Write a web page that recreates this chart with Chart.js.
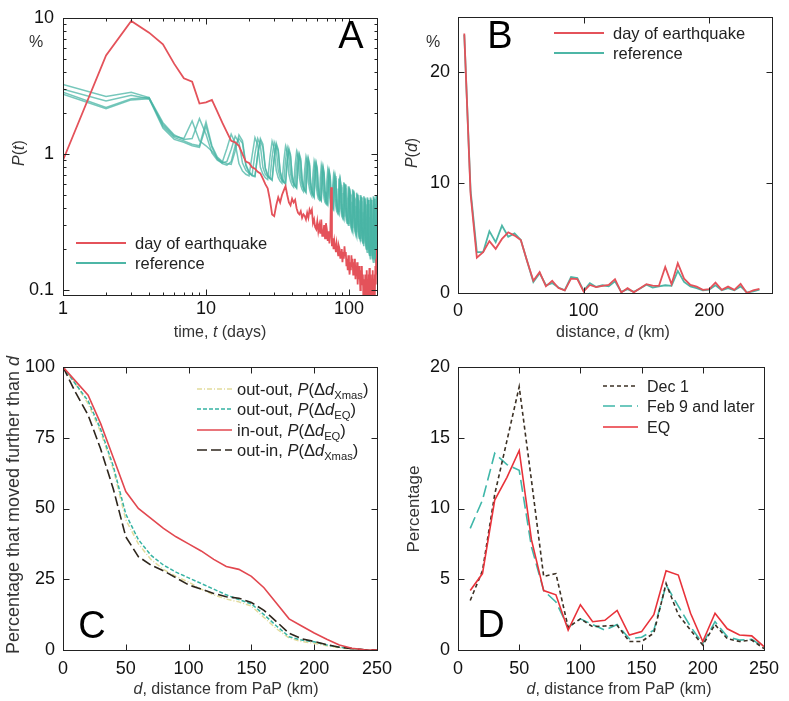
<!DOCTYPE html>
<html>
<head>
<meta charset="utf-8">
<script src="https://cdn.jsdelivr.net/npm/chart.js@4.4.1/dist/chart.umd.min.js"></script>
<style>
  html, body { margin: 0; padding: 0; background: #fff; }
  #wrap { position: relative; width: 789px; height: 701px; overflow: hidden; }
  canvas { position: absolute; left: 0; top: 0; }
</style>
</head>
<body>
<div id="wrap">
  <canvas id="chart-a" width="789" height="701"></canvas>
  <canvas id="chart-b" width="789" height="701"></canvas>
  <canvas id="chart-c" width="789" height="701"></canvas>
  <canvas id="chart-d" width="789" height="701"></canvas>
</div>
<script>
// ---- panel A: P(t), daily, log-log ----
var days = [];
for (var i = 1; i <= 157; i++) days.push(i);

var quakeT = [0.9, 5.3, 9.5, 7.8, 6.4, 4.6, 3.6, 3.4, 2.35, 2.4, 2.5, 2.05, 1.7, 1.45, 1.25, 1.22,
  1.15, 1.0, 0.88, 0.86, 0.8, 0.78, 0.74, 0.72, 0.66, 0.6, 0.56, 0.46, 0.36, 0.35,
  0.42, 0.48, 0.44, 0.5, 0.54, 0.58, 0.5, 0.44, 0.42, 0.47,
  0.44, 0.46, 0.4, 0.37, 0.36, 0.38, 0.34, 0.36, 0.35, 0.33,
  0.37, 0.34, 0.39, 0.37, 0.39, 0.31, 0.33, 0.29, 0.28, 0.32,
  0.27, 0.3, 0.26, 0.33, 0.25, 0.25, 0.3, 0.24, 0.31, 0.28,
  0.23, 0.27, 0.22, 0.26, 0.57, 0.21, 0.24, 0.2, 0.23, 0.21,
  0.19, 0.22, 0.2, 0.18, 0.21, 0.2, 0.17, 0.19, 0.2, 0.16,
  0.19, 0.17, 0.21, 0.18, 0.19, 0.15, 0.17, 0.14, 0.18, 0.15,
  0.13, 0.16, 0.14, 0.18, 0.15, 0.17, 0.13, 0.16, 0.14, 0.17,
  0.12, 0.15, 0.13, 0.16, 0.11, 0.14, 0.12, 0.15, 0.13, 0.1,
  0.14, 0.12, 0.15, 0.11, 0.13, 0.09, 0.12, 0.1, 0.085, 0.13,
  0.11, 0.09, 0.14, 0.1, 0.12, 0.085, 0.13, 0.1, 0.145, 0.11,
  0.09, 0.13, 0.1, 0.12, 0.085, 0.11, 0.14, 0.09, 0.12, 0.1,
  0.13, 0.09, 0.15, 0.11, 0.17, 0.13, 0.2];

var refT1 = [3.25, 2.65, 2.85, 2.6, 1.7, 1.38, 1.28, 1.3, 1.82, 1.4, 1.02, 0.9, 0.86, 0.88, 1.08,
  1.35, 1.22, 0.86, 0.76, 0.72, 0.7, 1.0,
  1.3, 1.15, 0.8, 0.71, 0.68, 0.66, 0.95,
  1.22, 1.1, 0.76, 0.67, 0.64, 0.62, 0.9,
  1.12, 1.0, 0.72, 0.63, 0.6, 0.58, 0.84,
  1.02, 0.93, 0.67, 0.59, 0.56, 0.54, 0.78,
  0.94, 0.86, 0.62, 0.55, 0.52, 0.5, 0.73,
  0.87, 0.8, 0.58, 0.5, 0.48, 0.47, 0.67,
  0.81, 0.74, 0.54, 0.47, 0.45, 0.44, 0.63,
  0.75, 0.69, 0.5, 0.44, 0.42, 0.41, 0.59,
  0.69, 0.64, 0.47, 0.41, 0.39, 0.38, 0.55,
  0.65, 0.6, 0.43, 0.38, 0.36, 0.35, 0.51,
  0.61, 0.56, 0.4, 0.35, 0.33, 0.32, 0.47,
  0.57, 0.52, 0.36, 0.32, 0.3, 0.29, 0.44,
  0.54, 0.49, 0.34, 0.29, 0.28, 0.27, 0.41,
  0.51, 0.47, 0.31, 0.27, 0.26, 0.25, 0.39,
  0.49, 0.45, 0.29, 0.25, 0.24, 0.23, 0.37,
  0.48, 0.44, 0.27, 0.23, 0.22, 0.21, 0.35,
  0.47, 0.43, 0.25, 0.21, 0.2, 0.19, 0.34,
  0.47, 0.42, 0.24, 0.2, 0.19, 0.18, 0.33,
  0.48, 0.43, 0.23, 0.19, 0.18, 0.17, 0.33,
  0.49, 0.44];

var refT2 = [2.85, 2.2, 2.55, 2.6, 1.6, 1.32, 1.25, 1.18, 1.15, 1.72, 1.15, 0.95, 0.88, 0.85, 0.84, 1.05,
  1.38, 1.25, 0.84, 0.74, 0.7, 0.69, 0.98,
  1.3, 1.18, 0.79, 0.7, 0.67, 0.65, 0.93,
  1.2, 1.08, 0.75, 0.66, 0.63, 0.61, 0.88,
  1.1, 0.99, 0.7, 0.62, 0.59, 0.57, 0.82,
  1.0, 0.92, 0.66, 0.58, 0.55, 0.53, 0.77,
  0.93, 0.85, 0.61, 0.54, 0.51, 0.49, 0.71,
  0.86, 0.79, 0.57, 0.5, 0.47, 0.46, 0.66,
  0.8, 0.73, 0.53, 0.46, 0.44, 0.43, 0.62,
  0.74, 0.68, 0.49, 0.43, 0.41, 0.4, 0.58,
  0.69, 0.63, 0.46, 0.4, 0.38, 0.37, 0.54,
  0.64, 0.59, 0.42, 0.37, 0.35, 0.34, 0.5,
  0.6, 0.55, 0.39, 0.34, 0.32, 0.31, 0.46,
  0.56, 0.51, 0.35, 0.31, 0.29, 0.28, 0.43,
  0.53, 0.48, 0.33, 0.28, 0.27, 0.26, 0.4,
  0.5, 0.46, 0.3, 0.26, 0.25, 0.24, 0.38,
  0.48, 0.44, 0.28, 0.24, 0.23, 0.22, 0.36,
  0.47, 0.43, 0.26, 0.22, 0.21, 0.2, 0.34,
  0.46, 0.42, 0.24, 0.2, 0.19, 0.18, 0.33,
  0.46, 0.41, 0.23, 0.19, 0.18, 0.17, 0.32,
  0.47, 0.42, 0.22, 0.18, 0.17, 0.16, 0.32,
  0.48];

var refT3 = [2.75, 2.15, 2.5, 2.55, 1.55, 1.28, 1.22, 1.15, 1.12, 1.6, 1.12, 0.92, 0.85, 0.83, 0.88, 1.15,
  1.3, 1.2, 0.82, 0.73, 0.69, 0.68, 1.0,
  1.25, 1.12, 0.78, 0.69, 0.66, 0.64, 0.95,
  1.16, 1.05, 0.74, 0.65, 0.62, 0.6, 0.9,
  1.06, 0.96, 0.69, 0.61, 0.58, 0.56, 0.84,
  0.97, 0.88, 0.64, 0.57, 0.54, 0.52, 0.78,
  0.9, 0.82, 0.6, 0.53, 0.5, 0.48, 0.72,
  0.84, 0.76, 0.56, 0.49, 0.46, 0.45, 0.67,
  0.78, 0.71, 0.52, 0.45, 0.43, 0.42, 0.63,
  0.72, 0.66, 0.48, 0.42, 0.4, 0.39, 0.59,
  0.67, 0.61, 0.45, 0.39, 0.37, 0.36, 0.55,
  0.63, 0.57, 0.41, 0.36, 0.34, 0.33, 0.51,
  0.59, 0.53, 0.38, 0.33, 0.31, 0.3, 0.47,
  0.55, 0.5, 0.34, 0.3, 0.28, 0.27, 0.44,
  0.52, 0.47, 0.32, 0.27, 0.26, 0.25, 0.41,
  0.5, 0.45, 0.29, 0.25, 0.24, 0.23, 0.39,
  0.48, 0.43, 0.27, 0.23, 0.22, 0.21, 0.37,
  0.47, 0.42, 0.25, 0.21, 0.2, 0.19, 0.35,
  0.46, 0.41, 0.23, 0.19, 0.18, 0.17, 0.34,
  0.46, 0.4, 0.22, 0.18, 0.17, 0.16, 0.33,
  0.47, 0.41, 0.21, 0.17, 0.16, 0.15, 0.33,
  0.49];

var refT4 = [3.0, 2.45, 2.7, 2.55, 1.65, 1.35, 1.3, 1.75, 1.25, 1.15, 1.05, 0.93, 0.87, 1.1,
  1.4, 1.2, 0.85, 0.75, 0.71, 0.69, 0.97,
  1.32, 1.17, 0.8, 0.71, 0.67, 0.65, 0.94,
  1.24, 1.1, 0.76, 0.67, 0.63, 0.61, 0.89,
  1.14, 1.02, 0.71, 0.63, 0.59, 0.57, 0.83,
  1.04, 0.94, 0.67, 0.59, 0.55, 0.53, 0.77,
  0.95, 0.86, 0.62, 0.55, 0.51, 0.49, 0.72,
  0.88, 0.8, 0.58, 0.51, 0.47, 0.46, 0.67,
  0.82, 0.74, 0.54, 0.47, 0.44, 0.43, 0.63,
  0.76, 0.69, 0.5, 0.44, 0.41, 0.4, 0.59,
  0.7, 0.64, 0.47, 0.41, 0.38, 0.37, 0.55,
  0.66, 0.6, 0.43, 0.38, 0.35, 0.34, 0.51,
  0.62, 0.56, 0.4, 0.35, 0.32, 0.31, 0.47,
  0.58, 0.52, 0.36, 0.32, 0.29, 0.28, 0.44,
  0.55, 0.49, 0.34, 0.29, 0.27, 0.26, 0.41,
  0.52, 0.47, 0.31, 0.27, 0.25, 0.24, 0.39,
  0.5, 0.45, 0.29, 0.25, 0.23, 0.22, 0.37,
  0.49, 0.44, 0.27, 0.23, 0.21, 0.2, 0.36,
  0.48, 0.43, 0.25, 0.21, 0.19, 0.18, 0.35,
  0.48, 0.42, 0.24, 0.2, 0.18, 0.17, 0.34,
  0.49, 0.43, 0.23, 0.19, 0.17, 0.16, 0.34,
  0.5, 0.44, 0.22];

var aXTicks = [1, 2, 3, 4, 5, 6, 7, 8, 9, 10, 20, 30, 40, 50, 60, 70, 80, 90, 100];
var aXLabels = [1, 10, 100];
var aYTicks = [0.1, 0.2, 0.3, 0.4, 0.5, 0.6, 0.7, 0.8, 0.9, 1, 2, 3, 4, 5, 6, 7, 8, 9, 10];
var aYLabels = [0.1, 1, 10];

// ---- panel B: P(d), 5 km bins ----
var distB = [5, 10, 15, 20, 25, 30, 35, 40, 45, 50, 55, 60, 65, 70, 75, 80, 85, 90, 95, 100,
  105, 110, 115, 120, 125, 130, 135, 140, 145, 150, 155, 160, 165, 170, 175, 180, 185, 190, 195, 200,
  205, 210, 215, 220, 225, 230, 235, 240];
var quakeB = [23.5, 9.0, 3.2, 3.7, 4.7, 4.0, 4.9, 5.5, 5.2, 4.8, 2.9, 1.1, 1.9, 0.6, 1.1, 0.45, 0.23, 1.3, 1.25, 0.14,
  0.73, 0.53, 0.65, 0.73, 1.25, 0.05, 0.44, 0.06, 0.44, 0.8, 0.67, 0.65, 2.35, 0.8, 2.7, 1.3, 0.73, 0.58, 0.29, 0.35,
  0.94, 0.29, 0.58, 0.29, 0.82, 0, 0.23, 0.38];
var refB = [23.4, 9.3, 3.7, 3.7, 5.6, 4.6, 6.1, 5.1, 5.4, 4.8, 2.9, 1.0, 1.8, 0.7, 0.9, 0.5, 0.25, 1.45, 1.35, 0.2,
  0.9, 0.55, 0.7, 0.6, 1.05, 0.1, 0.35, 0.1, 0.4, 0.75, 0.5, 0.6, 0.7, 0.65, 2.0, 1.0, 0.6, 0.45, 0.25, 0.3,
  0.7, 0.25, 0.45, 0.25, 0.6, 0.05, 0.15, 0.3];
var bXTicks = [0, 100, 200];
var bYTicks = [0, 10, 20];

// ---- panel C: share that moved further than d ----
var distC = [0, 10, 20, 30, 40, 50, 60, 70, 80, 90, 100, 110, 120, 130, 140, 150, 160, 170, 180, 190, 200, 210, 220, 230, 240, 250];
var outOutXmas = [100, 94, 87, 77, 64, 46, 37.5, 32, 28.5, 26, 24, 21.5, 19.5, 18, 17, 15.5, 11.5, 7.5, 4.2, 3, 2.4, 1.5, 0.8, 0.3, 0.05, 0];
var outOutEQ = [100, 94, 88, 78, 65, 48, 39, 33.5, 30, 27.5, 25.5, 23.5, 21.5, 19.5, 17.8, 16.3, 12.5, 8.5, 4.7, 3.5, 2.9, 1.8, 1.0, 0.5, 0.1, 0];
var inOutEQ = [100, 95, 90, 80, 68, 56, 50, 46.5, 43, 40, 37.5, 35, 32, 29.5, 28.5, 26, 22, 16.5, 11, 8.5, 6, 3.8, 1.8, 0.6, 0.1, 0];
var outInXmas = [100, 91, 83, 71, 57, 40, 33, 30, 28, 25.5, 23, 21.5, 20, 18.8, 18.3, 16.8, 14, 10, 5.9, 4, 3, 1.9, 1.0, 0.5, 0.1, 0];
var cXTicks = [0, 50, 100, 150, 200, 250];
var cYTicks = [0, 25, 50, 75, 100];

// ---- panel D: distance histograms ----
var distD = [10, 20, 30, 40, 50, 60, 70, 80, 90, 100, 110, 120, 130, 140, 150, 160, 170, 180, 190, 200, 210, 220, 230, 240, 250];
var dec1 = [3.5, 5.6, 11, 14.8, 18.6, 12, 5.2, 5.4, 1.6, 2.2, 1.65, 1.7, 1.75, 0.6, 0.6, 1.2, 4.7, 2.5, 1.4, 0.35, 1.8, 0.8, 0.6, 0.7, 0.1];
var feb9 = [8.6, 10.6, 13.9, 13.1, 12.7, 7.3, 4.2, 3.4, 1.6, 2.2, 1.8, 1.4, 1.8, 0.8, 0.9, 1.4, 4.6, 3.1, 1.65, 0.45, 2.0, 0.95, 0.7, 0.75, 0.2];
var eqD = [4.2, 5.4, 10.6, 12.2, 14.1, 7.8, 4.2, 3.9, 1.4, 3.2, 2.0, 2.1, 2.8, 1.06, 1.3, 2.5, 5.6, 5.3, 2.6, 0.6, 2.6, 1.5, 1.06, 1.0, 0.24];
var dXTicks = [0, 50, 100, 150, 200, 250];
var dYTicks = [0, 5, 10, 15, 20];

var FONT = '"Liberation Sans", Arial, Helvetica, sans-serif';
var RED = "#e4525a";
var TEAL = "rgba(72, 180, 164, 0.75)";

function pts(xs, ys) {
  return xs.map(function (x, i) { return { x: x, y: ys[i] }; });
}

function axis(o) {
  return {
    type: o.type || "linear",
    min: o.min,
    max: o.max,
    grid: { display: false, drawTicks: false },
    border: { display: false },
    ticks: {
      autoSkip: false,
      maxRotation: 0,
      minRotation: 0,
      padding: o.pad,
      color: "#111",
      font: { family: FONT, size: 18, lineHeight: 1 },
      callback: function (v) { return o.labels.indexOf(v) >= 0 ? String(v) : ""; },
    },
    afterBuildTicks: function (s) {
      s.ticks = o.ticks.map(function (v) { return { value: v }; });
    },
    afterFit: function (s) {
      if (o.w) s.width = o.w;
      if (o.h) s.height = o.h;
    },
  };
}

// segments: [text, style] with style "" normal, "i" italic, "s" subscript
function drawRich(c, segs, x, y, size, align) {
  function fontFor(st) {
    var sz = st === "s" ? size * 0.68 : size;
    return (st === "i" ? "italic " : "") + sz + "px " + FONT;
  }
  var w = 0;
  segs.forEach(function (s) { c.font = fontFor(s[1]); w += c.measureText(s[0]).width; });
  var cx = align === "center" ? x - w / 2 : x;
  var base = y + size * 0.36;
  c.textAlign = "left";
  c.textBaseline = "alphabetic";
  segs.forEach(function (s) {
    c.font = fontFor(s[1]);
    c.fillText(s[0], cx, s[1] === "s" ? base + size * 0.22 : base);
    cx += c.measureText(s[0]).width;
  });
}

function paper(cfg) {
  return {
    id: "paper",
    afterDraw: function (chart) {
      var c = chart.ctx, a = chart.chartArea;
      var sx = chart.scales.x, sy = chart.scales.y;
      var L = Math.round(a.left) + 0.5, R = Math.round(a.right) + 0.5;
      var T = Math.round(a.top) + 0.5, B = Math.round(a.bottom) + 0.5;
      c.save();
      c.strokeStyle = "#222";
      c.lineWidth = 1;
      c.setLineDash([]);
      c.beginPath();
      sx.ticks.forEach(function (t) {
        var len = cfg.xMajor.indexOf(t.value) >= 0 ? 6 : 3;
        var p = Math.round(sx.getPixelForValue(t.value)) + 0.5;
        c.moveTo(p, B); c.lineTo(p, B - len);
        c.moveTo(p, T); c.lineTo(p, T + len);
      });
      sy.ticks.forEach(function (t) {
        var len = cfg.yMajor.indexOf(t.value) >= 0 ? 6 : 3;
        var p = Math.round(sy.getPixelForValue(t.value)) + 0.5;
        c.moveTo(L, p); c.lineTo(L + len, p);
        c.moveTo(R, p); c.lineTo(R - len, p);
      });
      c.stroke();
      c.strokeRect(L, T, R - L, B - T);

      c.fillStyle = "#333";
      drawRich(c, cfg.xTitle.segs, cfg.xTitle.x, cfg.xTitle.y, cfg.xTitle.size, "center");
      c.save();
      c.translate(cfg.yTitle.x, cfg.yTitle.y);
      c.rotate(-Math.PI / 2);
      drawRich(c, cfg.yTitle.segs, 0, 0, cfg.yTitle.size, "center");
      c.restore();
      if (cfg.unit) drawRich(c, [[cfg.unit.text, ""]], cfg.unit.x, cfg.unit.y, 16, "center");

      c.fillStyle = "#000";
      c.font = "38px " + FONT;
      c.textAlign = "center";
      c.textBaseline = "middle";
      c.fillText(cfg.letter.text, cfg.letter.x, cfg.letter.y + 2);

      var lg = cfg.legend;
      lg.items.forEach(function (it, k) {
        var y = lg.rows[k];
        c.strokeStyle = it.color;
        c.lineWidth = it.width;
        c.setLineDash(it.dash || []);
        c.beginPath();
        c.moveTo(lg.x0, y);
        c.lineTo(lg.x1, y);
        c.stroke();
        c.fillStyle = "#222";
        drawRich(c, it.segs, lg.tx, y, lg.size, "left");
      });
      c.restore();
    },
  };
}

var base = {
  responsive: false,
  animation: false,
  events: [],
  plugins: { legend: { display: false }, tooltip: { enabled: false } },
  elements: { point: { radius: 0 }, line: { tension: 0 } },
};

function opts(pad, scales) {
  return Object.assign({}, base, { layout: { padding: pad }, scales: scales });
}

// A
var ctxA = document.getElementById("chart-a").getContext("2d");
new Chart(ctxA, {
  type: "line",
  data: {
    datasets: [
      { data: pts(days, quakeT), borderColor: RED, borderWidth: 1.8 },
      { data: pts(days, refT1), borderColor: TEAL, borderWidth: 1.5 },
      { data: pts(days, refT2), borderColor: TEAL, borderWidth: 1.5 },
      { data: pts(days, refT3), borderColor: TEAL, borderWidth: 1.5 },
      { data: pts(days, refT4), borderColor: TEAL, borderWidth: 1.5 },
    ],
  },
  options: opts({ left: 0, top: 10, right: 412, bottom: 0 }, {
    x: axis({ type: "logarithmic", min: 1, max: 157, ticks: aXTicks, labels: aXLabels, pad: 5, h: 406 }),
    y: axis({ type: "logarithmic", min: 0.092, max: 10, ticks: aYTicks, labels: aYLabels, pad: 9, w: 63 }),
  }),
  plugins: [paper({
    xMajor: aXLabels, yMajor: aYLabels,
    xTitle: { segs: [["time, ", ""], ["t", "i"], [" (days)", ""]], x: 220, y: 331, size: 16 },
    yTitle: { segs: [["P", "i"], ["(", ""], ["t", "i"], [")", ""]], x: 18, y: 153, size: 16 },
    unit: { text: "%", x: 36, y: 41 },
    letter: { text: "A", x: 351, y: 36 },
    legend: {
      x0: 76, x1: 126, tx: 135, rows: [243, 263], size: 16.5,
      items: [
        { segs: [["day of earthquake", ""]], color: RED, width: 1.8 },
        { segs: [["reference", ""]], color: "#4db6a6", width: 1.8 },
      ],
    },
  })],
});

// B
var ctxB = document.getElementById("chart-b").getContext("2d");
new Chart(ctxB, {
  type: "line",
  data: {
    datasets: [
      { data: pts(distB, quakeB), borderColor: RED, borderWidth: 1.8 },
      { data: pts(distB, refB), borderColor: "#4db6a6", borderWidth: 1.8 },
    ],
  },
  options: opts({ left: 398, top: 10, right: 17, bottom: 0 }, {
    x: axis({ min: 0, max: 250, ticks: bXTicks, labels: bXTicks, pad: 9, h: 408 }),
    y: axis({ min: 0, max: 25, ticks: bYTicks, labels: bYTicks, pad: 8, w: 60 }),
  }),
  plugins: [paper({
    xMajor: bXTicks, yMajor: bYTicks,
    xTitle: { segs: [["distance, ", ""], ["d", "i"], [" (km)", ""]], x: 613, y: 331, size: 16 },
    yTitle: { segs: [["P", "i"], ["(", ""], ["d", "i"], [")", ""]], x: 411, y: 153, size: 16 },
    unit: { text: "%", x: 433, y: 41 },
    letter: { text: "B", x: 500, y: 36 },
    legend: {
      x0: 554, x1: 604, tx: 613, rows: [33, 53], size: 16.5,
      items: [
        { segs: [["day of earthquake", ""]], color: RED, width: 1.8 },
        { segs: [["reference", ""]], color: "#4db6a6", width: 1.8 },
      ],
    },
  })],
});

// C
var C_YEL = "#e2db9c", C_TEAL = "#36b3a3", C_RED = "#e2474f", C_BLK = "#2e261c";
var ctxC = document.getElementById("chart-c").getContext("2d");
new Chart(ctxC, {
  type: "line",
  data: {
    datasets: [
      { data: pts(distC, inOutEQ), borderColor: C_RED, borderWidth: 1.6 },
      { data: pts(distC, outInXmas), borderColor: C_BLK, borderWidth: 1.6, borderDash: [10, 4] },
      { data: pts(distC, outOutEQ), borderColor: C_TEAL, borderWidth: 1.5, borderDash: [4, 2] },
      { data: pts(distC, outOutXmas), borderColor: C_YEL, borderWidth: 1.5, borderDash: [5, 2, 1, 2] },
    ],
  },
  options: opts({ left: 0, top: 367, right: 412, bottom: 0 }, {
    x: axis({ min: 0, max: 250, ticks: cXTicks, labels: cXTicks, pad: 10, h: 51 }),
    y: axis({ min: 0, max: 100, ticks: cYTicks, labels: cYTicks, pad: 8, w: 63 }),
  }),
  plugins: [paper({
    xMajor: cXTicks, yMajor: cYTicks,
    xTitle: { segs: [["d", "i"], [", distance from PaP (km)", ""]], x: 226, y: 688, size: 16 },
    yTitle: { segs: [["Percentage that moved further than ", ""], ["d", "i"]], x: 13, y: 505, size: 18 },
    letter: { text: "C", x: 92, y: 626 },
    legend: {
      x0: 197, x1: 232, tx: 237, rows: [389, 409, 430, 450], size: 16.5,
      items: [
        { segs: [["out-out, ", ""], ["P", "i"], ["(\u0394", ""], ["d", "i"], ["Xmas", "s"], [")", ""]], color: C_YEL, width: 1.5, dash: [5, 2, 1, 2] },
        { segs: [["out-out, ", ""], ["P", "i"], ["(\u0394", ""], ["d", "i"], ["EQ", "s"], [")", ""]], color: C_TEAL, width: 1.5, dash: [4, 2] },
        { segs: [["in-out, ", ""], ["P", "i"], ["(\u0394", ""], ["d", "i"], ["EQ", "s"], [")", ""]], color: C_RED, width: 1.6 },
        { segs: [["out-in, ", ""], ["P", "i"], ["(\u0394", ""], ["d", "i"], ["Xmas", "s"], [")", ""]], color: C_BLK, width: 1.6, dash: [10, 4] },
      ],
    },
  })],
});

// D
var D_BLK = "#3b3024", D_TEAL = "#3fb7a9", D_RED = "#e8323a";
var ctxD = document.getElementById("chart-d").getContext("2d");
new Chart(ctxD, {
  type: "line",
  data: {
    datasets: [
      { data: pts(distD, eqD), borderColor: D_RED, borderWidth: 1.6 },
      { data: pts(distD, dec1), borderColor: D_BLK, borderWidth: 1.6, borderDash: [4, 3] },
      { data: pts(distD, feb9), borderColor: D_TEAL, borderWidth: 1.6, borderDash: [12, 5] },
    ],
  },
  options: opts({ left: 398, top: 367, right: 17, bottom: 0 }, {
    x: axis({ min: 0, max: 250, ticks: dXTicks, labels: dXTicks, pad: 10, h: 51 }),
    y: axis({ min: 0, max: 20, ticks: dYTicks, labels: dYTicks, pad: 8, w: 60 }),
  }),
  plugins: [paper({
    xMajor: dXTicks, yMajor: dYTicks,
    xTitle: { segs: [["d", "i"], [", distance from PaP (km)", ""]], x: 619, y: 688, size: 16 },
    yTitle: { segs: [["Percentage", ""]], x: 413, y: 509, size: 17 },
    letter: { text: "D", x: 491, y: 625 },
    legend: {
      x0: 603, x1: 638, tx: 647, rows: [386, 406, 427], size: 16,
      items: [
        { segs: [["Dec 1", ""]], color: D_BLK, width: 1.6, dash: [4, 3] },
        { segs: [["Feb 9 and later", ""]], color: D_TEAL, width: 1.6, dash: [12, 5] },
        { segs: [["EQ", ""]], color: D_RED, width: 1.6 },
      ],
    },
  })],
});
</script>
</body>
</html>
